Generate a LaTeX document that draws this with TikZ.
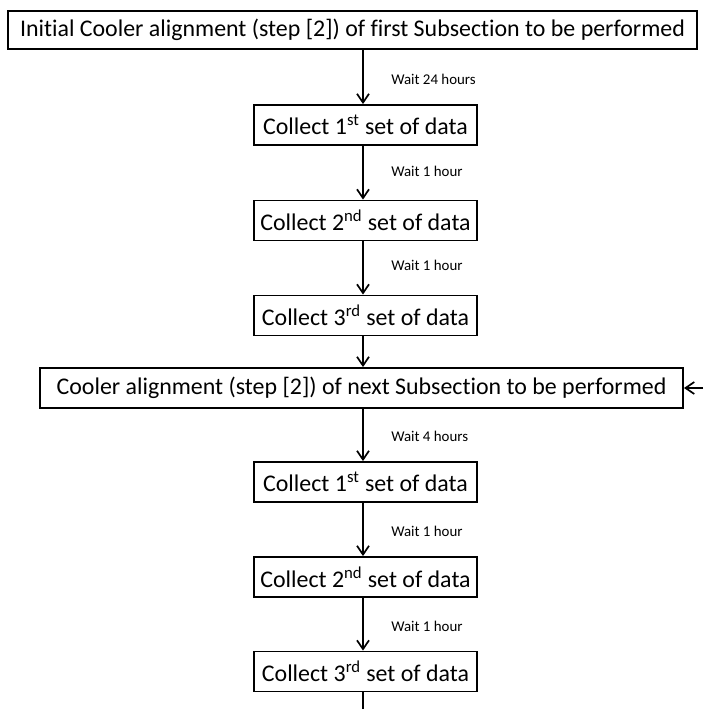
\documentclass[tikz,border=0pt]{standalone}
\usepackage{fontspec}
\setmainfont{Carlito}[Ligatures = NoCommon]
\usepackage{tikz}
\usetikzlibrary{arrows.meta}

\begin{document}
\begin{tikzpicture}[x = 0.025cm, y = -0.025cm,
    box/.style = {draw, line width = 1.3pt, minimum width = 5.575cm, minimum height = 1cm, inner sep = 0pt, font = \fontsize{17}{19}\selectfont},
    wide/.style = {box, minimum height = 0.95cm},
    wait/.style = {anchor = west, inner sep = 0pt, font = \fontsize{10.6}{12}\selectfont},
    flow/.style = {line width = 1.3pt, -{Straight Barb[length = 2.2mm, width = 3mm, line width = 1.2pt]}}]
    \useasboundingbox (0, 0) rectangle (703, 709);
    \node [wide, minimum width = 17.225cm] (init) at (352.5, 30) {Initial Cooler alignment (step [2]) of first Subsection to be performed};
    \node [box] (c1) at (365.5, 125) {Collect 1\textsuperscript{st} set of data};
    \node [box] (c2) at (365.5, 220.5) {Collect 2\textsuperscript{nd} set of data};
    \node [box] (c3) at (365.5, 315.5) {Collect 3\textsuperscript{rd} set of data};
    \node [box, minimum width = 16.075cm] (next) at (361.5, 388) {Cooler alignment (step [2]) of next Subsection to be performed};
    \node [box] (c4) at (365.5, 482) {Collect 1\textsuperscript{st} set of data};
    \node [box] (c5) at (365.5, 577) {Collect 2\textsuperscript{nd} set of data};
    \node [box] (c6) at (365.5, 671.5) {Collect 3\textsuperscript{rd} set of data};
    \node [wait] (w1) at (391, 79) {Wait 24 hours};
    \node [wait] (w2) at (391, 171) {Wait 1 hour};
    \node [wait] (w3) at (391, 265) {Wait 1 hour};
    \node [wait] (w4) at (391, 436) {Wait 4 hours};
    \node [wait] (w5) at (391, 531) {Wait 1 hour};
    \node [wait] (w6) at (391, 626) {Wait 1 hour};
    \coordinate (loop) at (703, 388);
    \coordinate (down) at (363, 709);
    \draw [flow] (init.south -| c1) ++(-2.5, 0) coordinate (a1) -- (a1 |- c1.north);
    \draw [flow] ([xshift = -2.5*0.025cm] c1.south) -- ([xshift = -2.5*0.025cm] c2.north);
    \draw [flow] ([xshift = -2.5*0.025cm] c2.south) -- ([xshift = -2.5*0.025cm] c3.north);
    \draw [flow] ([xshift = -2.5*0.025cm] c3.south) -- ([xshift = -2.5*0.025cm] c3.south |- next.north);
    \draw [flow] ([xshift = -2.5*0.025cm] c3.south |- next.south) -- ([xshift = -2.5*0.025cm] c4.north);
    \draw [flow] ([xshift = -2.5*0.025cm] c4.south) -- ([xshift = -2.5*0.025cm] c5.north);
    \draw [flow] ([xshift = -2.5*0.025cm] c5.south) -- ([xshift = -2.5*0.025cm] c6.north);
    \draw [flow] (loop) -- (next.east);
    \draw [line width = 1.3pt] (c6.south -| down) -- (down);
\end{tikzpicture}
\end{document}
